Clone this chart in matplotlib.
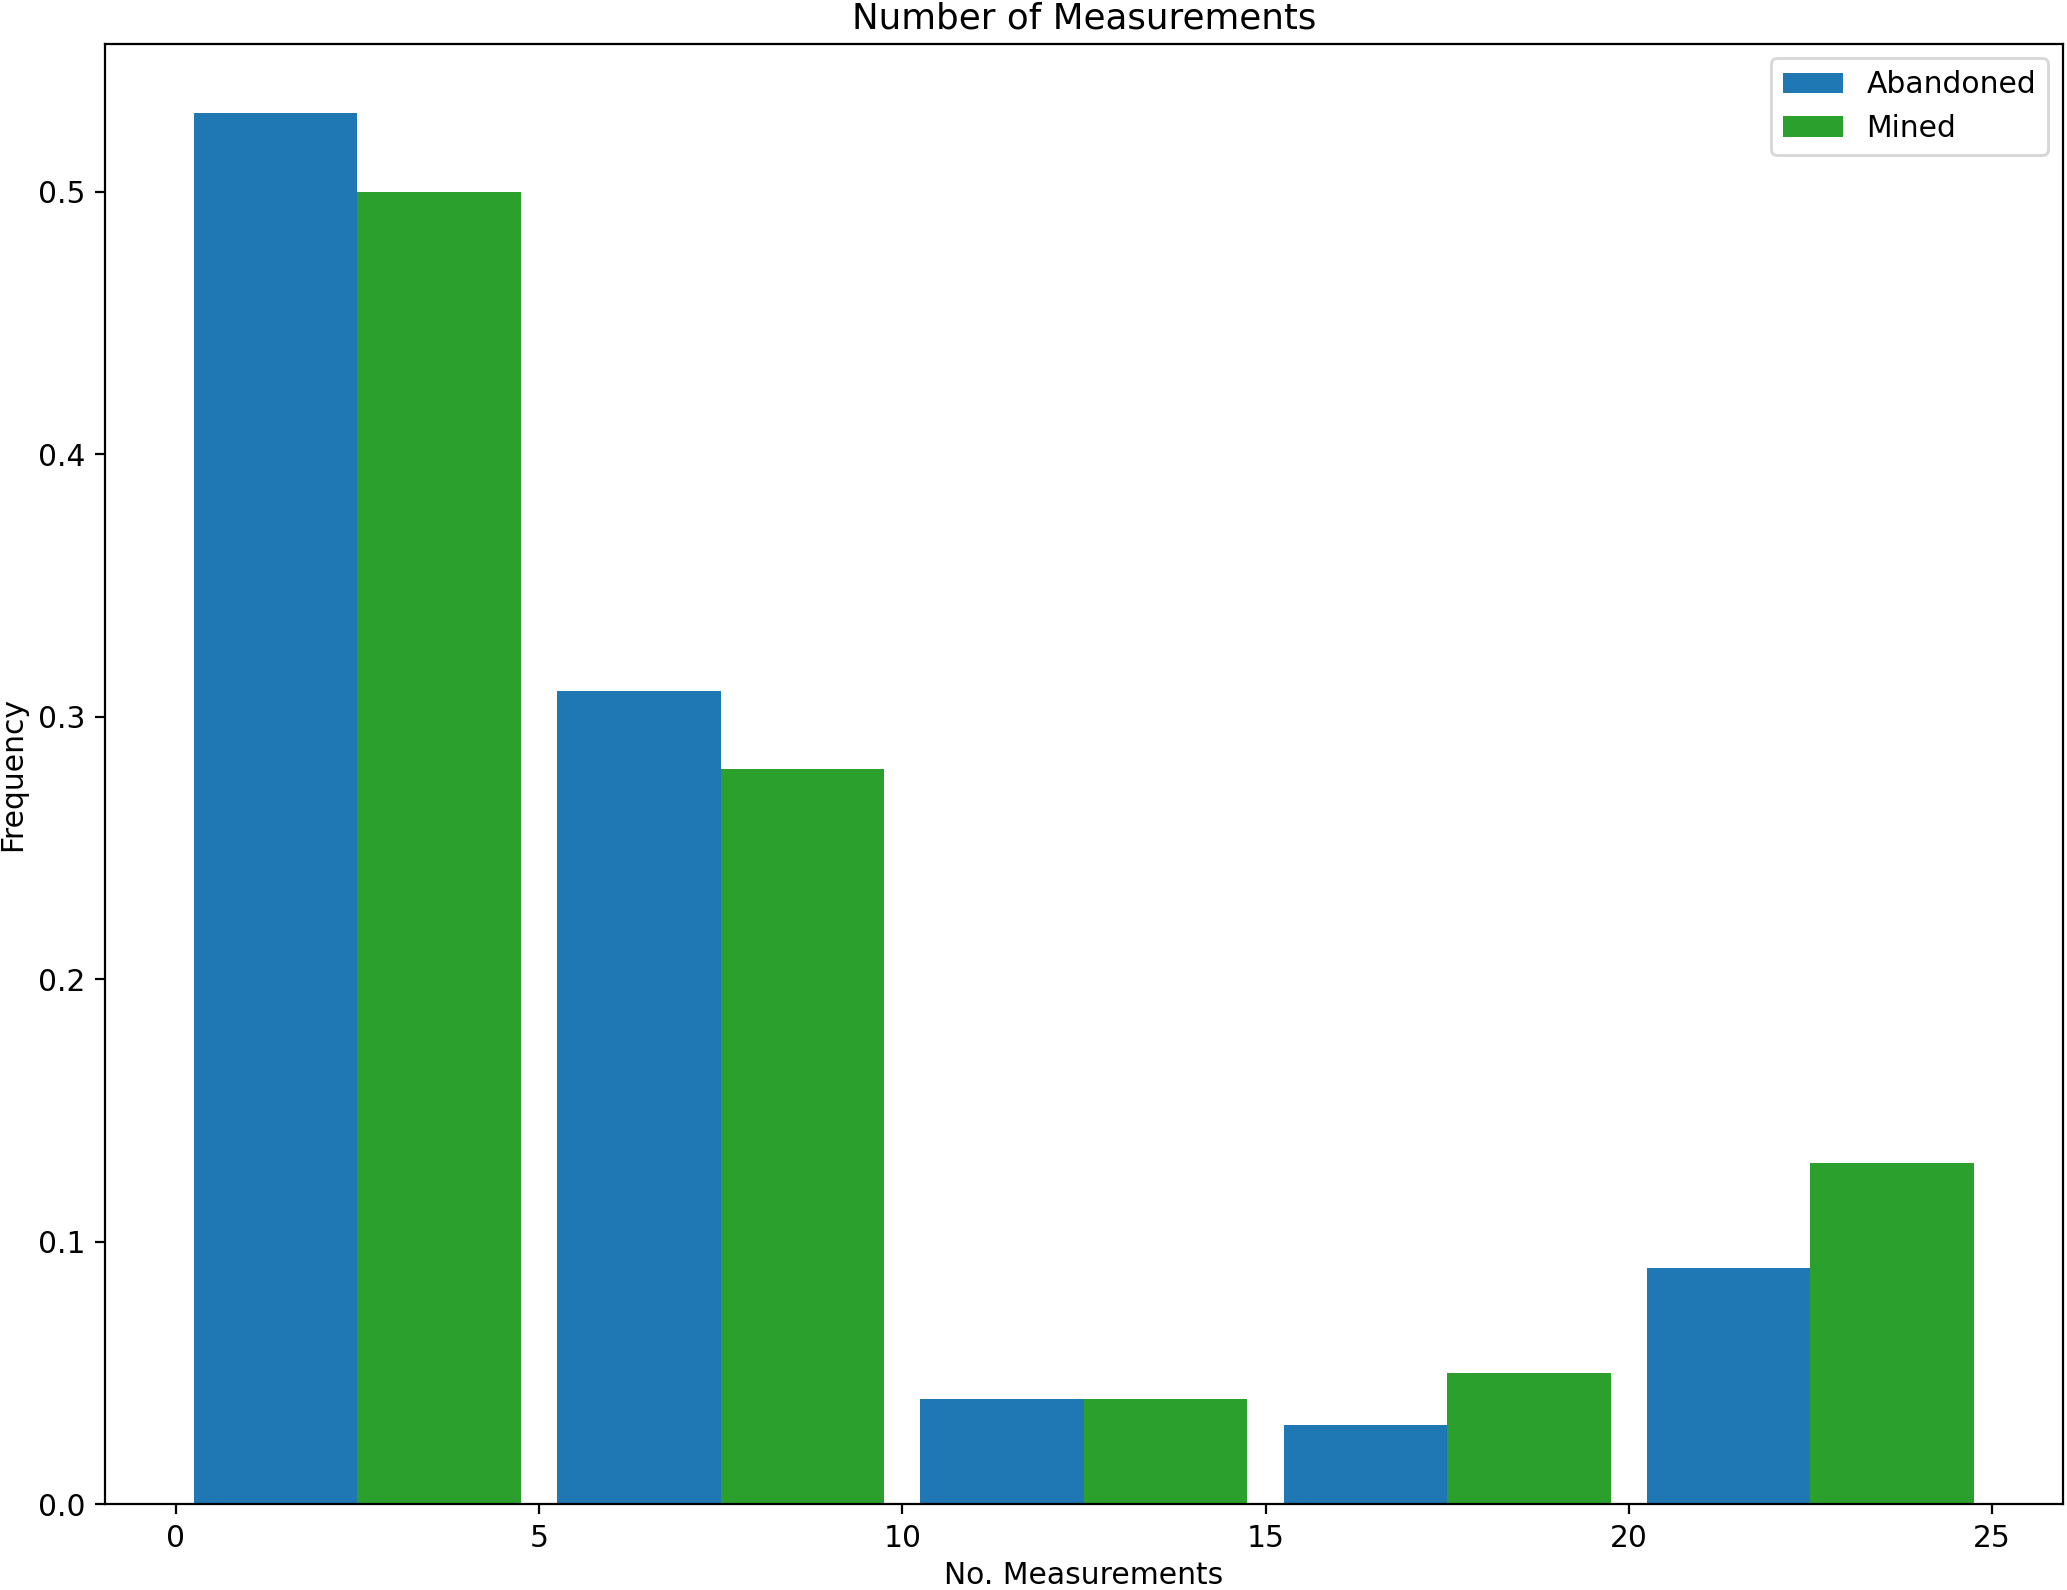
import numpy as np
from matplotlib import pyplot as plt

# histogram bins and relative frequencies
bin_edges = [0, 5, 10, 15, 20, 25]
abandoned = [0.53, 0.31, 0.04, 0.03, 0.09]
mined = [0.50, 0.28, 0.04, 0.05, 0.13]
labels = ["Abandoned", "Mined"]

centers = [(a + b) / 2 for a, b in zip(bin_edges[:-1], bin_edges[1:])]

plt.rcParams['font.size'] = 10.7

fig = plt.figure(figsize=(2067 / 200, 1590 / 200), dpi=200)
ax = fig.add_subplot(111)
fig.subplots_adjust(left=0.0508, right=0.998, top=0.9726, bottom=0.054)

ax.hist([centers, centers], bins=bin_edges, weights=[abandoned, mined],
        rwidth=0.9, color=["tab:blue", "tab:green"], label=labels)

ax.set_title("Number of Measurements", pad=5.5)
ax.set_xlabel("No. Measurements", labelpad=3)
ax.set_ylabel("Frequency")
ax.legend(loc="upper right")

fig.savefig("out.png", dpi=200)
